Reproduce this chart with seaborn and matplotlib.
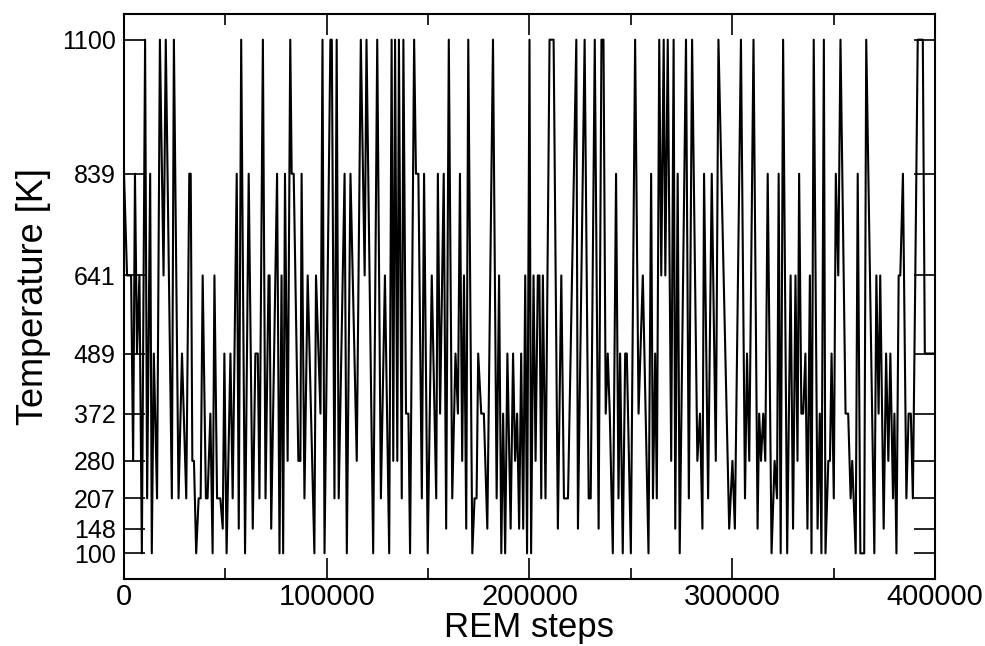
import numpy as np
import pandas as pd
import matplotlib
matplotlib.use("Agg")
import matplotlib.pyplot as plt
import seaborn as sns

# temperature ladder of the replicas [K]
levels = [100, 148, 207, 280, 372, 489, 641, 839, 1100]

# REM trajectory (step, temperature)
steps = [
    0, 1500, 3500, 4500, 5400, 6400, 7600, 8800, 10400, 11400,
    12900, 13700, 14700, 16300, 17700, 19500, 20600, 23600, 24600, 26900,
    28600, 30700, 32200, 32900, 33700, 34500, 35600, 36800, 37800, 38800,
    40400, 41200, 42600, 43700, 44600, 45900, 47500, 48700, 49500, 50600,
    52500, 53600, 55600, 56600, 57800, 59700, 61500, 63500, 64800, 66000,
    66800, 68500, 69800, 71300, 71800, 72600, 75500, 76700, 77700, 78500,
    79400, 80700, 82000, 82700, 83700, 86000, 87000, 87600, 89000, 90600,
    93900, 94700, 96900, 97900, 98900, 101800, 102500, 103800, 104900, 105900,
    108800, 109900, 111700, 114800, 116800, 118700, 119600, 122900, 124900, 126700,
    128700, 130800, 132000, 132800, 133700, 134800, 135600, 137000, 137800, 139100,
    140300, 141100, 143100, 144000, 145200, 146900, 148000, 149800, 151800, 154000,
    154800, 155900, 157700, 158900, 160200, 161900, 163500, 164700, 165700, 166800,
    167700, 168800, 169800, 171800, 172900, 173900, 174700, 176200, 177500, 179200,
    182000, 183800, 185000, 186100, 187000, 188000, 189100, 190700, 191900, 192900,
    193900, 194900, 195900, 196900, 197900, 198800, 200000, 200800, 202000, 203000,
    204100, 204900, 205800, 206600, 207900, 209900, 211900, 214000, 215700, 217000,
    219000, 223100, 223900, 227200, 229200, 230200, 232200, 234100, 235500, 236500,
    237600, 238600, 239600, 241100, 242700, 243900, 244700, 246000, 247200, 248000,
    250000, 252100, 253800, 255900, 258700, 260000, 260900, 262000, 262800, 264000,
    265000, 266200, 267000, 268200, 269900, 271100, 271900, 273100, 274100, 277200,
    278600, 280200, 282800, 284100, 285300, 286100, 288100, 289900, 291900, 293200,
    298500, 300100, 301300, 304300, 306300, 307300, 308400, 310500, 312500, 313300,
    314200, 315300, 316300, 317500, 319400, 320900, 322100, 322900, 323900, 325100,
    327100, 328800, 330000, 331200, 332200, 333000, 334100, 335000, 336100, 337100,
    338300, 339100, 340200, 342100, 343200, 344000, 345200, 346000, 347400, 348200,
    349000, 350100, 351100, 352300, 353400, 355900, 357200, 358400, 359200, 360900,
    361900, 363200, 365100, 366100, 370100, 371100, 372200, 373000, 374700, 375900,
    377000, 378000, 379300, 380000, 381000, 382100, 382900, 384200, 385900, 387000,
    388100, 389100, 390300, 391500, 394000, 395000, 400000,
]
temps = [
    839, 641, 641, 280, 839, 489, 641, 100, 1100, 207,
    839, 100, 489, 207, 1100, 641, 1100, 207, 1100, 207,
    489, 207, 839, 839, 280, 280, 100, 207, 207, 641,
    207, 207, 372, 100, 641, 207, 207, 148, 489, 100,
    489, 207, 839, 148, 1100, 100, 839, 148, 489, 489,
    207, 1100, 207, 641, 641, 148, 839, 100, 641, 100,
    839, 280, 1100, 839, 839, 280, 280, 839, 207, 641,
    100, 641, 372, 1100, 100, 1100, 1100, 207, 1100, 207,
    839, 100, 839, 280, 1100, 641, 1100, 100, 1100, 207,
    641, 100, 1100, 280, 1100, 280, 1100, 207, 1100, 372,
    372, 100, 1100, 839, 839, 207, 839, 100, 641, 207,
    839, 372, 839, 148, 1100, 207, 489, 372, 839, 280,
    641, 148, 1100, 100, 207, 207, 489, 372, 372, 148,
    1100, 207, 641, 100, 372, 100, 489, 148, 489, 280,
    372, 148, 489, 148, 641, 100, 1100, 100, 641, 280,
    641, 641, 207, 641, 207, 1100, 1100, 148, 641, 207,
    207, 1100, 148, 1100, 207, 207, 1100, 148, 1100, 1100,
    372, 489, 372, 100, 839, 207, 489, 100, 489, 489,
    100, 1100, 372, 641, 100, 839, 207, 489, 207, 1100,
    641, 1100, 641, 1100, 280, 1100, 148, 839, 100, 1100,
    207, 1100, 280, 372, 148, 839, 207, 839, 280, 1100,
    148, 280, 148, 1100, 207, 489, 280, 1100, 148, 372,
    280, 372, 280, 839, 100, 280, 207, 839, 100, 1100,
    100, 641, 148, 641, 280, 839, 372, 372, 489, 148,
    641, 100, 1100, 148, 372, 100, 1100, 100, 280, 280,
    489, 207, 839, 641, 1100, 372, 372, 207, 280, 100,
    839, 100, 100, 1100, 100, 641, 372, 641, 148, 489,
    280, 489, 207, 372, 100, 641, 641, 839, 207, 372,
    372, 207, 641, 1100, 1100, 489, 489,
]

df = pd.DataFrame({"step": steps, "T": temps})

sns.set_style("ticks")
plt.rcParams["font.family"] = ["Liberation Sans", "DejaVu Sans"]
plt.rcParams["text.color"] = "black"
plt.rcParams["axes.labelcolor"] = "black"
plt.rcParams["xtick.color"] = "black"
plt.rcParams["ytick.color"] = "black"

fig = plt.figure(figsize=(9.85, 6.46), dpi=100)
ax = fig.add_axes([0.1259, 0.1037, 0.8233, 0.8746])

sns.lineplot(data=df, x="step", y="T", estimator=None, sort=False,
             color="black", linewidth=1.5, ax=ax)

ax.set_xlim(0, 400000)
ax.set_ylim(50, 1150)
ax.set_yticks(levels)
ax.set_yticklabels([str(v) for v in levels])
ax.set_xticks([0, 100000, 200000, 300000, 400000])
ax.set_xticks(np.arange(50000, 400000, 100000), minor=True)

ax.tick_params(axis="both", which="major", direction="in", length=15, width=1.2,
               top=True, right=True, pad=6)
ax.tick_params(axis="x", which="major", labelsize=21, pad=3)
ax.tick_params(axis="y", which="major", labelsize=18)
ax.tick_params(axis="x", which="minor", direction="in", length=8, width=1.2,
               top=True)
for sp in ax.spines.values():
    sp.set_linewidth(1.5)
    sp.set_color("black")

ax.set_xlabel("REM steps", fontsize=25, labelpad=0)
ax.set_ylabel("Temperature [K]", fontsize=26, labelpad=8)

fig.savefig("out.png", dpi=100)
